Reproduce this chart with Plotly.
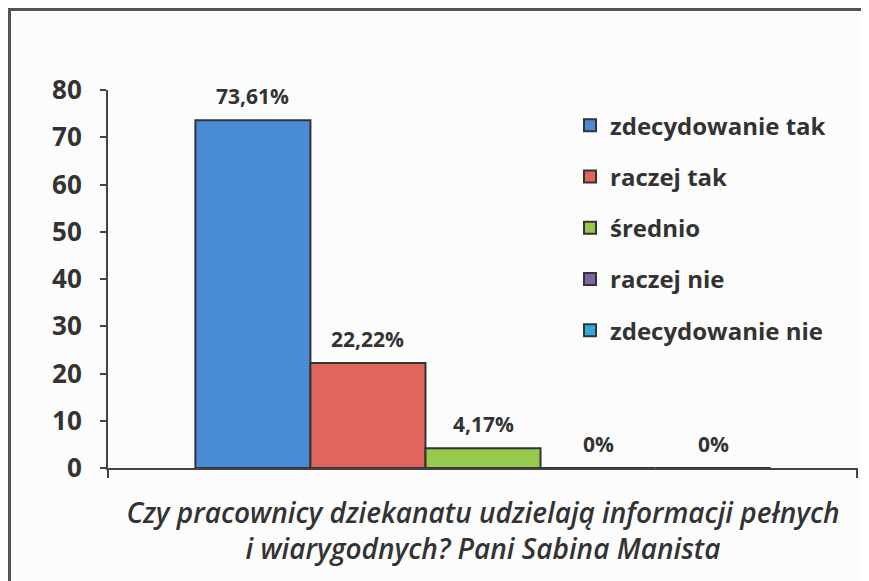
import plotly.graph_objects as go

category = ["Czy pracownicy dziekanatu udzielają informacji pełnych i wiarygodnych?"]
series_names = ["zdecydowanie tak", "raczej tak", "średnio", "raczej nie", "zdecydowanie nie"]
series_values = [73.61, 22.22, 4.17, 0, 0]
value_labels = ["73,61%", "22,22%", "4,17%", "0%", "0%"]
series_colors = ["#4a8bd6", "#e0655a", "#96c94c", "#8064a2", "#2fa9dc"]
y_ticks = [0, 10, 20, 30, 40, 50, 60, 70, 80]
axis_title = "Czy pracownicy dziekanatu udzielają informacji pełnych<br>i wiarygodnych? Pani Sabina Manista"

FONT = "Open Sans"
TXT = "#333333"

# page is drawn with an 8px body margin, so the figure is 8px smaller
W, H = 861, 573
ML, MR, MT, MB = 100, 11, 82, 113
plot_w = W - ML - MR
plot_h = H - MT - MB
n = len(series_names)
BARGAP = 0.233
bar_px = plot_w * (1 - BARGAP) / n

fig = go.Figure()
for i, (name, val, col) in enumerate(zip(series_names, series_values, series_colors)):
    fig.add_trace(go.Bar(
        name=name, x=category, y=[val],
        marker=dict(color=col, line=dict(color="#333333", width=2)),
        legendgroup=f"g{i}", hoverinfo="name+y",
    ))

# value labels above each bar
for i, (val, lab) in enumerate(zip(series_values, value_labels)):
    fig.add_annotation(
        x=category[0], y=val, text=lab, showarrow=False,
        xshift=(i - (n - 1) / 2) * bar_px, yshift=24, yanchor="middle",
        font=dict(family=FONT, size=21, color=TXT, weight=700),
    )

fig.update_layout(
    width=W, height=H,
    margin=dict(l=ML, r=MR, t=MT, b=MB),
    paper_bgcolor="#fcfcfc", plot_bgcolor="rgba(0,0,0,0)",
    barmode="group", bargap=BARGAP, bargroupgap=0,
    showlegend=True,
    legend=dict(
        x=0.616, y=0.965, xanchor="left", yanchor="top",
        bgcolor="rgba(0,0,0,0)", traceorder="grouped", tracegroupgap=17,
        font=dict(family=FONT, size=24, color=TXT, weight=700),
    ),
)

fig.update_yaxes(
    range=[0, 80], tickvals=y_ticks, showgrid=False, zeroline=False,
    showline=True, linecolor="#444444", linewidth=2,
    ticks="outside", ticklen=6, tickwidth=2, tickcolor="#444444",
    tickfont=dict(family=FONT, size=26, color=TXT, weight=700),
    ticklabelstandoff=13,
)
fig.update_xaxes(
    type="category", range=[-0.5, 0.5],
    tickmode="array", tickvals=[-0.4995, 0.4985], showticklabels=False,
    ticks="outside", ticklen=8, tickwidth=2, tickcolor="#444444",
    showline=True, linecolor="#444444", linewidth=2, showgrid=False,
    title=dict(text=axis_title, standoff=26,
               font=dict(family=FONT, size=28, color=TXT, style="italic", weight=600)),
)

# chart frame (scanned page border)
fig.add_shape(type="rect", xref="paper", yref="paper",
              x0=(1.5 - ML) / plot_w, x1=1.05, y0=-0.35, y1=(plot_h + MT - 1.5) / plot_h,
              line=dict(color="#555555", width=3), fillcolor="rgba(0,0,0,0)", layer="below")

fig.write_html("out.html")
